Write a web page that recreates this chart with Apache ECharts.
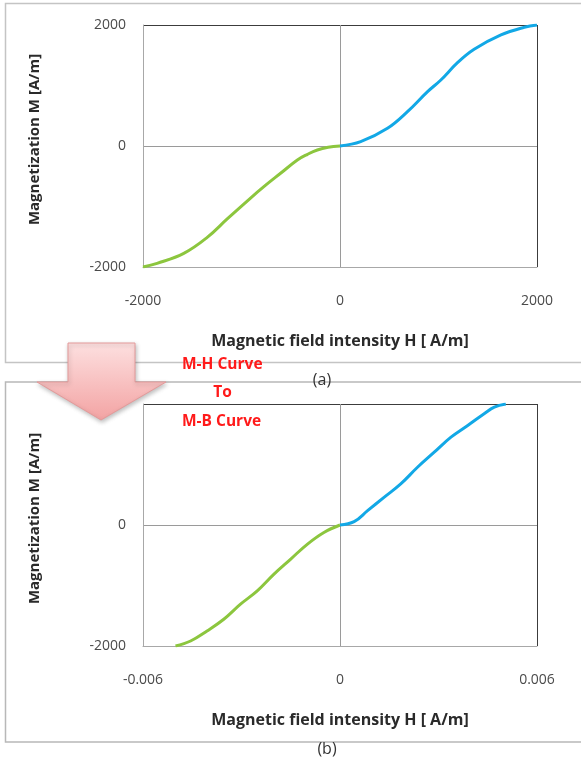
<!DOCTYPE html>
<html><head><meta charset="utf-8">
<script src="https://cdn.jsdelivr.net/npm/echarts@6/dist/echarts.min.js"></script>
<style>html,body{margin:0;padding:0;background:#fff}#c{width:581px;height:762px}</style>
</head><body><div id="c"></div>
<script>
// Chart (a): M-H curve
const mhNegH = [-2000, -1857, -1586, -1348, -1145, -908, -773, -600, -433, -330, -230, -120, 0];
const mhNegM = [-2000, -1939, -1774, -1510, -1205, -860, -672, -447, -231, -137, -66, -22, 0];
const mhPosH = [0, 210, 482, 685, 889, 1024, 1193, 1362, 1634, 1871, 2000];
const mhPosM = [0, 71, 292, 567, 898, 1091, 1377, 1598, 1835, 1962, 2000];
// Chart (b): M-B curve
const mbNegB = [-0.00501, -0.00455, -0.00405, -0.00354, -0.00303, -0.00252, -0.00201, -0.0015, -0.00099, -0.00049, 0];
const mbNegM = [-2000, -1917, -1751, -1558, -1309, -1089, -812, -563, -315, -123, 0];
const mbPosB = [0, 0.00043, 0.00084, 0.00134, 0.00185, 0.00236, 0.00287, 0.00338, 0.00389, 0.00439, 0.0047, 0.00505];
const mbPosM = [0, 55, 237, 457, 679, 954, 1203, 1452, 1645, 1839, 1949, 2000];
const xTicksA = [-2000, 0, 2000];
const xTicksB = [-0.006, 0, 0.006];
const yTicks = [-2000, 0, 2000];
const xTitle = 'Magnetic field intensity H [ A/m]';
const yTitle = 'Magnetization M [A/m]';
const noteLines = ['M-H Curve', 'To', 'M-B Curve'];
const captions = ['(a)', '(b)'];

const zip = (a, b) => a.map((v, i) => [v, b[i]]);
const green = '#8cc63e', blue = '#12a8e6';
const labelStyle = {color: '#4a4a4a', fontSize: 14, fontFamily: 'Open Sans'};
const xTitleStyle = {color: '#2a2a2a', fontSize: 16, fontWeight: 'bold', fontFamily: 'Open Sans'};
const yTitleStyle = {color: '#2a2a2a', fontSize: 15, fontWeight: 'bold', fontFamily: 'Open Sans', padding: [0, 0, 0, 13]};
const splitColors = ['#a8a8a8', '#9a9a9a', '#3c3c3c'];

function xAxis(idx, ticks) {
  return {
    type: 'value', gridIndex: idx, min: ticks[0], max: ticks[2], interval: ticks[2],
    axisLine: {show: true, onZero: false, lineStyle: {color: '#a8a8a8', width: 1}},
    axisTick: {show: false},
    axisLabel: Object.assign({margin: 27, formatter: v => String(+v.toFixed(6))}, labelStyle),
    splitLine: {show: true, lineStyle: {color: splitColors, width: 1}},
    name: xTitle, nameLocation: 'middle', nameGap: 66, nameTextStyle: xTitleStyle
  };
}
function yAxis(idx, hideTop) {
  return {
    type: 'value', gridIndex: idx, min: yTicks[0], max: yTicks[2], interval: yTicks[2],
    axisLine: {show: true, onZero: false, lineStyle: {color: '#a8a8a8', width: 1}},
    axisTick: {show: false},
    axisLabel: Object.assign({margin: 17, formatter: v => (hideTop && v === yTicks[2]) ? '' : String(v)}, labelStyle),
    splitLine: {show: true, lineStyle: {color: splitColors, width: 1}},
    name: yTitle, nameLocation: 'middle', nameGap: 101, nameTextStyle: yTitleStyle
  };
}
function line(idx, data, color) {
  return {type: 'line', xAxisIndex: idx, yAxisIndex: idx, data: data, showSymbol: false,
    smooth: 0.4, lineStyle: {color: color, width: 3}, itemStyle: {color: color}, z: 3};
}

const chart = echarts.init(document.getElementById('c'), null, {renderer: 'canvas'});
chart.setOption({
  animation: false,
  backgroundColor: '#fff',
  grid: [
    {left: 143, top: 25, width: 394, height: 242},
    {left: 143, top: 404, width: 394, height: 242}
  ],
  xAxis: [xAxis(0, xTicksA), xAxis(1, xTicksB)],
  yAxis: [yAxis(0, false), yAxis(1, true)],
  series: [
    line(0, zip(mhNegH, mhNegM), green),
    line(0, zip(mhPosH, mhPosM), blue),
    line(1, zip(mbNegB, mbNegM), green),
    line(1, zip(mbPosB, mbPosM), blue)
  ],
  graphic: [
    {type: 'rect', z: -10, silent: true, shape: {x: 5.5, y: 3.5, width: 620, height: 359}, style: {fill: 'none', stroke: '#c4c4c4', lineWidth: 1.5}},
    {type: 'rect', z: -10, silent: true, shape: {x: 5.5, y: 382, width: 620, height: 360}, style: {fill: 'none', stroke: '#b8b8b8', lineWidth: 1.5}},
    {type: 'text', z: 20, style: {text: captions[0], x: 322, y: 380, textAlign: 'center', textVerticalAlign: 'middle', fontSize: 16, fill: '#333', fontFamily: 'Open Sans'}},
    {type: 'text', z: 20, style: {text: captions[1], x: 327, y: 749, textAlign: 'center', textVerticalAlign: 'middle', fontSize: 16, fill: '#333', fontFamily: 'Open Sans'}},
    {type: 'polygon', z: 30, silent: true,
      shape: {points: [[68, 343], [135, 343], [135, 382], [166, 382], [101, 420], [37, 382], [68, 382]]},
      style: {fill: {type: 'linear', x: 0, y: 0, x2: 0, y2: 1, colorStops: [{offset: 0, color: '#fde0e0'}, {offset: 1, color: '#f3a3a3'}]},
        stroke: '#e49a9a', lineWidth: 1, shadowBlur: 4, shadowColor: 'rgba(0,0,0,0.25)', shadowOffsetX: 1, shadowOffsetY: 2}},
    {type: 'text', z: 31, style: {text: noteLines[0], x: 182, y: 365, textAlign: 'left', textVerticalAlign: 'middle', fontSize: 15.5, fontWeight: 'bold', fill: '#ff1a1a', fontFamily: 'Open Sans'}},
    {type: 'text', z: 31, style: {text: noteLines[1], x: 222.5, y: 393, textAlign: 'center', textVerticalAlign: 'middle', fontSize: 15.5, fontWeight: 'bold', fill: '#ff1a1a', fontFamily: 'Open Sans'}},
    {type: 'text', z: 31, style: {text: noteLines[2], x: 182, y: 422, textAlign: 'left', textVerticalAlign: 'middle', fontSize: 15.5, fontWeight: 'bold', fill: '#ff1a1a', fontFamily: 'Open Sans'}}
  ]
});
</script></body></html>
